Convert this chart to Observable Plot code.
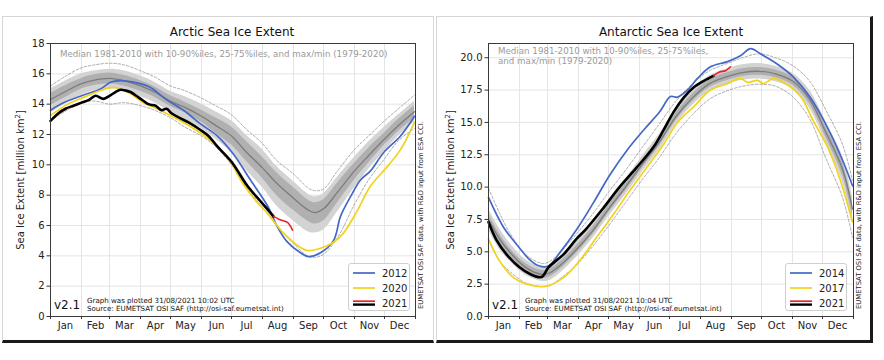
<!DOCTYPE html>
<html>
<head>
<meta charset="utf-8">
<script src="https://cdn.jsdelivr.net/npm/d3@7"></script>
<script src="https://cdn.jsdelivr.net/npm/@observablehq/plot@0.6"></script>
<style>
  html, body { margin: 0; padding: 0; background: #fff; }
  body { width: 884px; height: 360px; position: relative; overflow: hidden; font-family: "DejaVu Sans", sans-serif; color: #222; }
  .card { position: absolute; background: #fff; box-sizing: border-box; }
  .abs { position: absolute; white-space: nowrap; }
  .title { font-size: 12px; transform: translateX(-50%); color: #111; }
  .ylab { font-size: 10px; transform: translate(-50%, -50%) rotate(-90deg); }
  .side { font-size: 6.8px; transform: translate(-50%, -50%) rotate(-90deg); color: #222; }
  .sub { font-size: 8.7px; color: #9a9a9a; line-height: 9.5px; }
  .ver { font-size: 12px; color: #111; }
  .foot { font-size: 7.1px; line-height: 8px; color: #111; }
  .foot span { color: #111; }
  .legend { position: absolute; background: #fff; border: 1px solid #cfcfcf; border-radius: 3px; box-sizing: border-box; font-size: 10px; }
  .legend .row { position: absolute; left: 0; height: 14px; display: flex; align-items: center; }
  .legend svg { display: block; }
</style>
</head>
<body>
<div class="card" style="left:2px;top:16px;width:432px;height:327px;border:1px solid #d6d6d6;border-bottom:3px solid #1a1a1a;"></div>
<div class="card" style="left:436px;top:16px;width:437px;height:327px;border:1px solid #d6d6d6;border-right:3px solid #1a1a1a;border-bottom:3px solid #1a1a1a;"></div>
<div id="arc" class="abs" style="left:2px;top:17px;"></div>
<div id="ant" class="abs" style="left:436px;top:17px;"></div>
<script>
// ---------- shared axis data ----------
const monthNames = ["Jan","Feb","Mar","Apr","May","Jun","Jul","Aug","Sep","Oct","Nov","Dec"];
const monthStarts = [1,32,60,91,121,152,182,213,244,274,305,335,366];
const monthMids = [16,46,75,106,136,167,197,228,259,289,320,350];
const arcTicks = [0,2,4,6,8,10,12,14,16,18];
const antTicks = [0,2.5,5,7.5,10,12.5,15,17.5,20];

// ---------- Arctic climatology (day of year) ----------
const arcDays   = [1,15,32,46,60,74,91,105,121,135,152,166,182,196,213,227,244,258,265,274,288,305,319,335,349,365];
const arcMedian = [14.3,14.8,15.35,15.6,15.7,15.55,15.2,14.8,14.2,13.8,13.2,12.6,11.9,10.9,9.8,8.8,7.8,7.05,6.85,7.1,8.2,9.6,10.6,11.7,12.6,13.5];
const arcP75    = [14.7,15.2,15.7,15.95,16.05,15.9,15.55,15.15,14.55,14.15,13.6,13.1,12.5,11.6,10.5,9.5,8.5,7.7,7.5,7.7,8.8,10.1,11.1,12.1,13.0,13.9];
const arcP25    = [13.9,14.4,15.0,15.25,15.35,15.2,14.85,14.45,13.85,13.45,12.8,12.1,11.3,10.3,9.1,8.0,7.0,6.3,6.1,6.3,7.5,9.0,10.1,11.3,12.2,13.1];
const arcP90    = [15.0,15.5,16.0,16.2,16.3,16.2,15.85,15.45,14.85,14.5,14.0,13.5,12.9,12.0,11.0,9.9,8.9,8.1,7.9,8.1,9.2,10.5,11.5,12.5,13.3,14.2];
const arcP10    = [13.4,14.0,14.6,14.9,15.0,14.9,14.5,14.1,13.5,13.0,12.4,11.7,10.8,9.7,8.5,7.3,6.3,5.6,5.5,5.7,6.9,8.5,9.7,10.9,11.9,12.8];
const arcMax    = [15.2,15.8,16.4,16.6,16.7,16.6,16.2,15.8,15.2,14.9,14.4,13.9,13.3,12.4,11.4,10.3,9.4,8.5,8.3,8.4,9.6,11.0,11.9,12.9,13.7,14.6];
const arcMin    = [12.9,13.5,14.1,14.2,14.0,14.1,13.9,13.6,13.1,12.5,11.9,11.2,10.0,8.6,7.2,6.0,4.8,4.0,3.9,4.1,5.2,7.4,9.0,10.4,11.6,12.4];

// Arctic years
const arc2012Days = [1,11,34,51,61,71,84,101,111,118,134,151,168,184,201,218,228,238,251,259,271,284,291,301,311,321,334,351,365];
const arc2012     = [13.6,14.0,14.6,15.0,15.45,15.55,15.45,15.1,14.6,14.25,13.6,12.7,11.9,10.7,9.0,7.3,5.9,4.9,4.2,3.95,4.2,5.0,6.6,7.9,9.0,9.6,10.8,11.9,13.2];
const arc2020Days = [1,18,34,51,64,78,94,111,128,144,161,178,194,208,218,234,251,258,271,284,294,308,321,338,351,365];
const arc2020     = [13.25,14.0,14.45,14.9,15.1,14.8,14.1,13.6,13.0,12.4,11.6,10.5,8.7,7.5,6.8,5.5,4.55,4.35,4.5,4.9,5.5,7.0,8.6,9.9,11.0,12.8];
const arc2021Days = [1,9,16,24,32,40,46,54,60,66,71,76,81,89,99,106,112,117,122,130,139,151,159,168,182,198,211,224];
const arc2021     = [12.9,13.4,13.7,13.9,14.1,14.3,14.55,14.35,14.55,14.8,14.95,14.9,14.8,14.45,14.0,13.9,13.6,13.7,13.4,13.1,12.8,12.3,11.9,11.2,10.2,8.6,7.6,6.6];
const arc2021RecentDays = [224,230,238,243];
const arc2021Recent     = [6.6,6.4,6.2,5.7];

// ---------- Antarctic climatology ----------
const antDays   = [1,12,22,38,55,63,72,88,105,121,138,155,172,188,205,222,238,255,272,288,305,322,338,355,365];
const antMedian = [7.5,6.0,5.0,3.8,3.25,3.4,3.9,5.1,6.6,8.3,10.0,11.8,13.5,15.4,16.9,18.0,18.5,18.85,18.95,18.75,18.2,16.8,14.3,11.4,8.3];
const antP75    = [7.9,6.4,5.3,4.1,3.55,3.7,4.2,5.4,6.9,8.6,10.3,12.1,13.8,15.7,17.2,18.3,18.8,19.15,19.25,19.05,18.5,17.15,14.7,11.9,8.8];
const antP25    = [7.1,5.6,4.7,3.5,2.95,3.1,3.6,4.8,6.3,8.0,9.7,11.5,13.2,15.1,16.6,17.7,18.2,18.55,18.65,18.45,17.9,16.45,13.9,10.9,7.8];
const antP90    = [8.3,6.8,5.7,4.4,3.8,4.0,4.5,5.7,7.2,8.9,10.6,12.4,14.1,16.0,17.5,18.6,19.1,19.45,19.55,19.35,18.8,17.5,15.1,12.4,9.3];
const antP10    = [6.7,5.2,4.3,3.2,2.7,2.8,3.3,4.5,6.0,7.7,9.4,11.2,12.9,14.8,16.3,17.4,17.9,18.25,18.35,18.15,17.6,16.1,13.5,10.4,7.3];
const antMax    = [9.9,8.0,6.5,4.8,4.1,4.3,4.9,6.3,7.9,9.6,11.3,13.1,14.9,16.6,18.0,19.0,19.5,20.0,20.3,20.0,19.4,18.2,16.0,13.3,10.5];
const antMin    = [5.9,4.3,3.5,2.6,2.3,2.4,2.9,3.9,5.4,7.0,8.8,10.6,12.3,14.1,15.6,16.8,17.4,17.8,17.95,17.8,17.0,15.3,12.3,9.2,6.1];

// Antarctic years
const ant2014Days = [1,16,32,42,52,61,72,89,106,122,139,156,172,183,190,200,210,223,240,253,263,273,290,306,323,340,356,365];
const ant2014     = [9.2,6.9,5.3,4.4,3.9,3.9,4.9,6.7,8.8,10.9,12.8,14.4,15.8,17.0,16.95,17.5,18.4,19.3,19.7,20.15,20.7,20.3,19.5,18.5,16.9,14.6,11.9,10.1];
const ant2017Days = [1,12,26,39,59,76,92,109,126,142,159,176,190,206,223,240,253,260,270,276,286,296,313,326,340,353,365];
const ant2017     = [6.0,4.3,3.0,2.5,2.35,3.0,4.3,6.1,7.9,9.7,11.5,13.3,15.0,16.2,17.5,18.0,18.4,18.1,18.25,18.0,18.4,18.1,17.0,15.1,13.1,10.5,7.3];
const ant2021Days = [1,9,19,32,42,54,61,76,89,99,116,132,149,166,176,186,196,206,216,226];
const ant2021     = [7.3,5.9,4.8,3.8,3.3,3.05,3.8,4.8,6.0,6.8,8.4,10.0,11.5,13.1,14.4,15.8,16.9,17.7,18.2,18.6];
const ant2021RecentDays = [226,232,238,243];
const ant2021Recent     = [18.6,18.9,19.0,19.3];

// ---------- helpers ----------
const zip = (days, vals) => days.map((d, i) => ({d, v: vals[i]}));
const band = (days, med, p25, p75, p10, p90, mx, mn) =>
  days.map((d, i) => ({d, med: med[i], p25: p25[i], p75: p75[i], p10: p10[i], p90: p90[i], max: mx[i], min: mn[i]}));
const monthByMid = new Map(monthMids.map((m, i) => [m, monthNames[i]]));

const BLUE = "#4467c8", YELLOW = "#f1d31c", RED = "#e5232a", BLACK = "#000";

function panel({width, marginLeft, marginRight, ymax, yTicks, yFormat, clim, years}) {
  const curve = "catmull-rom";
  const yearMarks = years.map(y => Plot.line(y.data, {x: "d", y: "v", stroke: y.color, strokeWidth: y.width, curve}));
  return Plot.plot({
    width, height: 325,
    marginLeft, marginRight, marginTop: 26, marginBottom: 26,
    x: {domain: [1, 366], label: null},
    y: {domain: [0, ymax], label: null},
    style: {fontFamily: "DejaVu Sans, sans-serif", fontSize: "10px", background: "transparent", color: "#222", overflow: "visible"},
    marks: [
      Plot.gridY(yTicks, {stroke: "#e4e4e4", strokeOpacity: 1}),
      Plot.gridX(monthStarts, {stroke: "#e4e4e4", strokeOpacity: 1}),
      Plot.areaY(clim, {x: "d", y1: "p10", y2: "p90", fill: "#d3d3d3", curve}),
      Plot.areaY(clim, {x: "d", y1: "p25", y2: "p75", fill: "#b0b0b0", curve}),
      Plot.line(clim, {x: "d", y: "max", stroke: "#8a8a8a", strokeWidth: 0.7, strokeDasharray: "2.5,1.8", curve}),
      Plot.line(clim, {x: "d", y: "min", stroke: "#8a8a8a", strokeWidth: 0.7, strokeDasharray: "2.5,1.8", curve}),
      Plot.line(clim, {x: "d", y: "med", stroke: "#7c7c7c", strokeWidth: 1.3, curve}),
      ...yearMarks,
      Plot.frame({stroke: "#3a3a3a", strokeWidth: 1}),
      Plot.axisY(yTicks, {tickSize: 3.5, tickPadding: 2.5, tickFormat: yFormat, label: null, stroke: "#333"}),
      Plot.axisX(monthStarts, {tickSize: 3, tickFormat: () => "", label: null, stroke: "#333"}),
      Plot.axisX(monthMids, {tickSize: 0, tickPadding: 5, tickFormat: d => monthByMid.get(d), label: null})
    ]
  });
}

document.getElementById("arc").append(panel({
  width: 431, marginLeft: 48, marginRight: 18, ymax: 18, yTicks: arcTicks, yFormat: d3.format("d"),
  clim: band(arcDays, arcMedian, arcP25, arcP75, arcP10, arcP90, arcMax, arcMin),
  years: [
    {data: zip(arc2012Days, arc2012), color: BLUE, width: 1.7},
    {data: zip(arc2020Days, arc2020), color: YELLOW, width: 1.7},
    {data: zip(arc2021Days, arc2021), color: BLACK, width: 2.6},
    {data: zip(arc2021RecentDays, arc2021Recent), color: RED, width: 1.6}
  ]
}));

document.getElementById("ant").append(panel({
  width: 436, marginLeft: 52, marginRight: 19, ymax: 21.1, yTicks: antTicks, yFormat: d3.format(".1f"),
  clim: band(antDays, antMedian, antP25, antP75, antP10, antP90, antMax, antMin),
  years: [
    {data: zip(ant2014Days, ant2014), color: BLUE, width: 1.7},
    {data: zip(ant2017Days, ant2017), color: YELLOW, width: 1.7},
    {data: zip(ant2021Days, ant2021), color: BLACK, width: 2.6},
    {data: zip(ant2021RecentDays, ant2021Recent), color: RED, width: 1.6}
  ]
}));

// ---------- text furniture ----------
const subtitleArc = "Median 1981-2010 with 10-90%iles, 25-75%iles, and max/min (1979-2020)";
const subtitleAnt = ["Median 1981-2010 with 10-90%iles, 25-75%iles,", "and max/min (1979-2020)"];
const yLabel = "Sea Ice Extent [million km²]";
const sideText = "EUMETSAT OSI SAF data, with R&D input from ESA CCI.";
const footArc = ["Graph was plotted 31/08/2021 10:02 UTC", "Source: EUMETSAT OSI SAF (http://osi-saf.eumetsat.int)"];
const footAnt = ["Graph was plotted 31/08/2021 10:04 UTC", "Source: EUMETSAT OSI SAF (http://osi-saf.eumetsat.int)"];

function addDiv(cls, style, html) {
  const el = document.createElement("div");
  el.className = "abs " + cls;
  el.setAttribute("style", style);
  el.innerHTML = html;
  document.body.append(el);
  return el;
}
// zero-width joiner after "http" keeps the browser from styling the address as a link
function esc(s) { return s.replace(/&/g, "&amp;").replace(/</g, "&lt;"); }
function footHtml(lines) { return lines.map(l => `<span>${esc(l)}</span>`).join("<br>"); }

function legend(left, top, labels) {
  const el = document.createElement("div");
  el.className = "legend";
  el.setAttribute("style", `left:${left}px;top:${top}px;width:62px;height:48px;`);
  const sw = [
    `<svg width="22" height="8"><line x1="0" x2="22" y1="4" y2="4" stroke="${BLUE}" stroke-width="1.7"/></svg>`,
    `<svg width="22" height="8"><line x1="0" x2="22" y1="4" y2="4" stroke="${YELLOW}" stroke-width="1.7"/></svg>`,
    `<svg width="22" height="8"><line x1="0" x2="22" y1="2.2" y2="2.2" stroke="${RED}" stroke-width="1.7"/><line x1="0" x2="22" y1="5.6" y2="5.6" stroke="${BLACK}" stroke-width="2.4"/></svg>`
  ];
  el.innerHTML = labels.map((l, i) =>
    `<div class="row" style="top:${2 + i * 15}px;left:4px;">${sw[i]}<span style="margin-left:7px;">${l}</span></div>`).join("");
  document.body.append(el);
}

// Arctic
addDiv("title", "left:232px;top:25px;", "Arctic Sea Ice Extent");
addDiv("sub", "left:60px;top:50px;", esc(subtitleArc));
addDiv("ylab", "left:20px;top:180px;", yLabel.replace("²", "<sup style='font-size:7px'>2</sup>"));
addDiv("side", "left:421px;top:215px;", esc(sideText));
addDiv("ver", "left:54px;top:298px;", "v2.1");
addDiv("foot", "left:87px;top:297px;", footHtml(footArc));
legend(348, 263, ["2012", "2020", "2021"]);

// Antarctic
addDiv("title", "left:671px;top:25px;", "Antarctic Sea Ice Extent");
addDiv("sub", "left:498px;top:47px;", subtitleAnt.map(esc).join("<br>"));
addDiv("ylab", "left:450px;top:180px;", yLabel.replace("²", "<sup style='font-size:7px'>2</sup>"));
addDiv("side", "left:859px;top:215px;", esc(sideText));
addDiv("ver", "left:492px;top:298px;", "v2.1");
addDiv("foot", "left:525px;top:297px;", footHtml(footAnt));
legend(785, 263, ["2014", "2017", "2021"]);
</script>
</body>
</html>
